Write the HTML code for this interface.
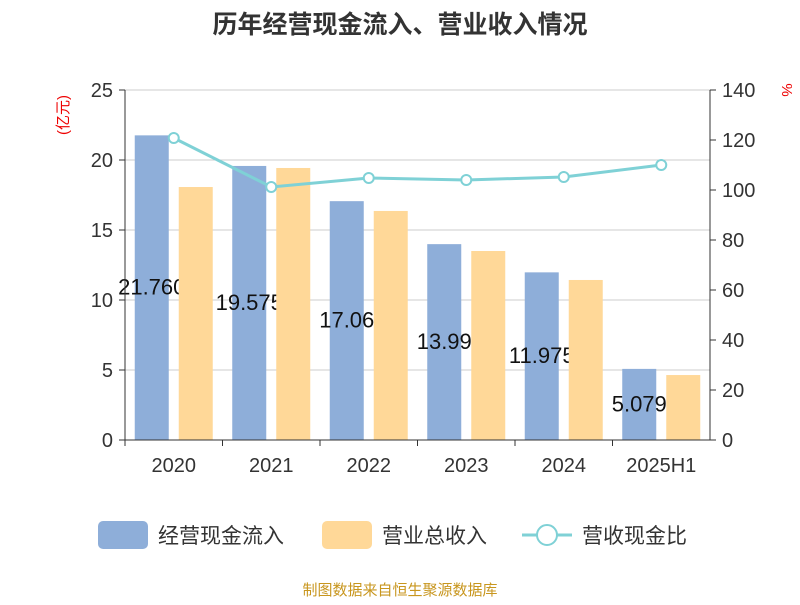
<!DOCTYPE html>
<html><head><meta charset="utf-8"><style>
body{margin:0;background:#fff;}
svg text{font-family:"Liberation Sans","Noto Sans CJK SC",sans-serif;}
</style></head><body>
<svg id="c" width="800" height="600" xmlns="http://www.w3.org/2000/svg">
<text x="400" y="33" text-anchor="middle" font-size="25" font-weight="bold" fill="#333">历年经营现金流入、营业收入情况</text>
<text transform="translate(68,115) rotate(-90)" text-anchor="middle" font-size="15" fill="#e00">(亿元)</text>
<text transform="translate(782,90) rotate(90)" text-anchor="middle" font-size="15" fill="#e00">%</text>
<g id="grid"></g><g id="bars"></g><g id="axes"></g><g id="line"></g>
<g>
<rect x="98" y="521" width="50" height="28" rx="5" fill="#8eaed9"/>
<text x="158" y="543" font-size="21" fill="#333">经营现金流入</text>
<rect x="322" y="521" width="50" height="28" rx="5" fill="#ffd898"/>
<text x="382" y="543" font-size="21" fill="#333">营业总收入</text>
<line x1="522" y1="535" x2="572" y2="535" stroke="#7fd1d6" stroke-width="3"/>
<circle cx="547" cy="535" r="10" fill="#fff" stroke="#7fd1d6" stroke-width="2"/>
<text x="582" y="543" font-size="21" fill="#333">营收现金比</text>
</g>
<text x="400" y="595" text-anchor="middle" font-size="15" fill="#c8961e">制图数据来自恒生聚源数据库</text>
</svg>
<script>
const categories=["2020","2021","2022","2023","2024","2025H1"];
const cashInflow=[21.760,19.575,17.060,13.990,11.975,5.079];
const cashLabels=["21.760","19.575","17.06","13.99","11.975","5.079"];
const revenue=[18.07,19.43,16.36,13.50,11.43,4.64];
const ratio=[120.8,101.2,104.8,104.0,105.2,110.0];
const leftTicks=[0,5,10,15,20,25];
const rightTicks=[0,20,40,60,80,100,120,140];
const NS="http://www.w3.org/2000/svg";
const L=125,R=710,T=90,B=440;
const yL=v=>B-(v/25)*(B-T);
const yR=v=>B-(v/140)*(B-T);
const bw=(R-L)/categories.length;
const xC=i=>L+bw*(i+0.5);
function mk(p,tag,a){const e=document.createElementNS(NS,tag);for(const k in a)e.setAttribute(k,a[k]);p.appendChild(e);return e;}
const grid=document.getElementById('grid'),bars=document.getElementById('bars'),axes=document.getElementById('axes'),line=document.getElementById('line');
leftTicks.forEach(t=>{
 if(t>0){const g=mk(grid,'line',{x1:L,x2:R,y1:yL(t),y2:yL(t),stroke:'#ccc','stroke-width':1});
 
 }
 mk(axes,'line',{x1:L-6,x2:L,y1:yL(t),y2:yL(t),stroke:'#333'});
 const tx=mk(axes,'text',{x:L-12,y:yL(t)+7,'text-anchor':'end','font-size':20,fill:'#333'});tx.textContent=t;
 
 
});
rightTicks.forEach(t=>{
 mk(axes,'line',{x1:R,x2:R+6,y1:yR(t),y2:yR(t),stroke:'#333'});
 const tx=mk(axes,'text',{x:R+12,y:yR(t)+7,'font-size':20,fill:'#333'});tx.textContent=t;
 
 
});
mk(axes,'line',{x1:L,x2:L,y1:T,y2:B,stroke:'#333'});
mk(axes,'line',{x1:R,x2:R,y1:T,y2:B,stroke:'#333'});
mk(axes,'line',{x1:L,x2:R,y1:B,y2:B,stroke:'#333'});
categories.forEach((c,i)=>{
 mk(axes,'line',{x1:L+bw*i,x2:L+bw*i,y1:B,y2:B+6,stroke:'#333'});
 const tx=mk(axes,'text',{x:xC(i),y:B+32,'text-anchor':'middle','font-size':20,fill:'#333'});tx.textContent=c;
 
 
 const b=mk(bars,'rect',{x:xC(i)-39,y:yL(cashInflow[i]),width:34,height:B-yL(cashInflow[i]),fill:'#8eaed9'});
 
 
 const lb=mk(bars,'text',{x:xC(i)-22,y:(yL(cashInflow[i])+B)/2+7,'text-anchor':'middle','font-size':22,fill:'#111'});lb.textContent=cashLabels[i];
 
 
});
categories.forEach((c,i)=>{
 const b=mk(bars,'rect',{x:xC(i)+5,y:yL(revenue[i]),width:34,height:B-yL(revenue[i]),fill:'#ffd898'});
 
 
});
const pts=ratio.map((v,i)=>xC(i)+','+yR(v)).join(' ');
const pl=mk(line,'polyline',{points:pts,fill:'none',stroke:'#7fd1d6','stroke-width':3});


ratio.forEach((v,i)=>{
 const p=mk(line,'circle',{cx:xC(i),cy:yR(v),r:5,fill:'#fff',stroke:'#7fd1d6','stroke-width':2});
 
 
});
</script>
</body></html>
